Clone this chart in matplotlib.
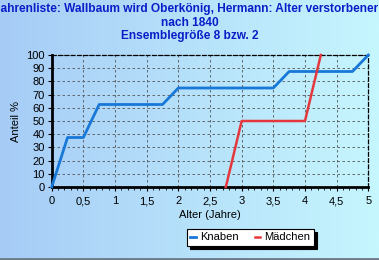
"""Alter verstorbener Kinder: kumulierter Anteil nach Alter."""

import matplotlib

matplotlib.use("Agg")

import matplotlib.pyplot as plt
import numpy as np
from matplotlib.colors import LinearSegmentedColormap
from matplotlib.ticker import MultipleLocator

# Daten
knaben_alter = [0, 0.25, 0.5, 0.75, 1.75, 2.0, 3.5, 3.75, 4.75, 5.0]
knaben_anteil = [0, 37.5, 37.5, 62.5, 62.5, 75, 75, 87.5, 87.5, 100]
maedchen_alter = [2.75, 3.0, 4.0, 4.25]
maedchen_anteil = [0, 50, 50, 100]

title_lines = [
    "Sterbejahrenliste: Wallbaum wird Oberkönig, Hermann: Alter verstorbener Kinder",
    "nach 1840",
    "Ensemblegröße 8 bzw. 2",
]
x_ticks = [0, 0.5, 1, 1.5, 2, 2.5, 3, 3.5, 4, 4.5, 5]
x_tick_labels = ["0", "0,5", "1", "1,5", "2", "2,5", "3", "3,5", "4", "4,5", "5"]
y_ticks = list(range(0, 101, 10))

W, H = 379, 260
plt.rcParams["font.family"] = ["Liberation Sans", "DejaVu Sans"]

fig = plt.figure(figsize=(W / 100, H / 100), dpi=100)

# Hintergrund mit Farbverlauf
bg = fig.add_axes([0, 0, 1, 1])
cmap = LinearSegmentedColormap.from_list("bg", ["#a6ccf6", "#c6f6fe"])
bg.imshow(np.linspace(0, 1, 256)[None, :], aspect="auto", cmap=cmap,
          extent=[0, 1, 0, 1])
bg.plot([0, 1], [0.004, 0.004], color="#6b7a86", linewidth=2)
bg.set_xlim(0, 1)
bg.set_ylim(0, 1)
bg.set_axis_off()

ax = fig.add_axes([51.7 / W, (H - 187) / H, 316.6 / W, 132 / H])
ax.patch.set_alpha(0)

ax.plot(knaben_alter, knaben_anteil, color="#1878d8", linewidth=2,
        label="Knaben", zorder=3, clip_on=False)
ax.plot(maedchen_alter, maedchen_anteil, color="#e4383c", linewidth=1.8,
        label="Mädchen", zorder=3, clip_on=False)

ax.set_xlim(0, 5)
ax.set_ylim(0, 100)
ax.set_xticks(x_ticks)
ax.set_xticklabels(x_tick_labels)
ax.set_yticks(y_ticks)
ax.xaxis.set_minor_locator(MultipleLocator(0.1))
ax.tick_params(axis="both", labelsize=8, length=3, width=0.8, pad=2)
ax.tick_params(axis="x", pad=3.5)
ax.tick_params(axis="x", which="minor", length=2, width=0.6)
ax.grid(True, linestyle=(0, (3, 3)), color="#555555", linewidth=0.6)

for side in ("top", "right"):
    ax.spines[side].set_linestyle((0, (3, 2)))
    ax.spines[side].set_linewidth(0.9)
for side in ("left", "bottom"):
    ax.spines[side].set_linewidth(2)

ax.set_xlabel("Alter (Jahre)", fontsize=8, labelpad=3)
ax.set_ylabel("Anteil %", fontsize=8, labelpad=4)

for i, line in enumerate(title_lines):
    fig.text(0.5, 1 - (9 + 13.7 * i) / H, line, ha="center", va="center",
             fontsize=8.6, fontweight="bold", color="#0a1ec8")

leg = fig.legend(loc="center", bbox_to_anchor=(250.5 / W, 1 - 237.5 / H),
                 ncol=2, fontsize=8, handlelength=0.5, handletextpad=0.4,
                 columnspacing=1.4, frameon=True, fancybox=False,
                 shadow={"color": "black", "alpha": 1}, borderpad=0.3,
                 borderaxespad=0)
leg.get_frame().set_edgecolor("black")
leg.get_frame().set_linewidth(0.8)

fig.savefig("out.png", dpi=100)
